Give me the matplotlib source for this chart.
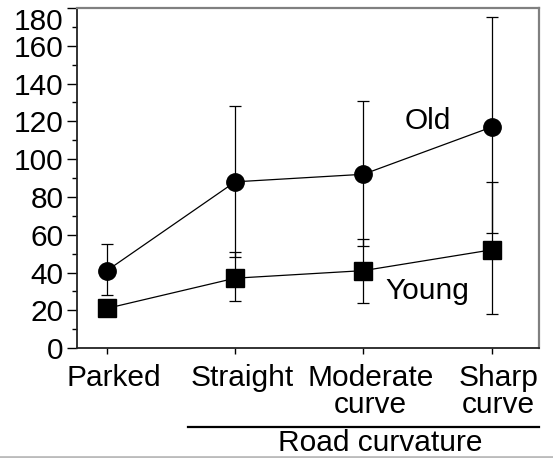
import matplotlib.pyplot as plt
from matplotlib.lines import Line2D
from matplotlib.transforms import ScaledTranslation

plt.rcParams["font.family"] = ["Liberation Sans", "DejaVu Sans"]

categories = ["Parked", "Straight", "Moderate\ncurve", "Sharp\ncurve"]
old_mean = [41, 88, 92, 117]
old_low = [28, 48, 54, 61]
old_high = [55, 128, 131, 175]
young_mean = [21, 37, 41, 52]
young_low = [21, 25, 24, 18]
young_high = [21, 51, 58, 88]
y_ticks = [0, 20, 40, 60, 80, 100, 120, 140, 160, 180]

FS = 21.5

fig = plt.figure(figsize=(5.53, 4.58), dpi=100)
ax = fig.add_axes([0.139, 0.240, 0.836, 0.7425])

x = list(range(len(categories)))

old_err = [[m - lo for m, lo in zip(old_mean, old_low)],
           [hi - m for m, hi in zip(old_mean, old_high)]]
young_err = [[m - lo for m, lo in zip(young_mean, young_low)],
             [hi - m for m, hi in zip(young_mean, young_high)]]

ax.errorbar(x, old_mean, yerr=old_err, fmt="none", ecolor="black",
            elinewidth=0.9, capsize=4, capthick=0.9, zorder=2)
ax.errorbar(x, young_mean, yerr=young_err, fmt="none", ecolor="black",
            elinewidth=0.9, capsize=4, capthick=0.9, zorder=2)
ax.plot(x, old_mean, color="black", lw=0.9, marker="o", markersize=12.5, zorder=3)
ax.plot(x, young_mean, color="black", lw=0.9, marker="s", markersize=12.5, zorder=3)

ax.text(2.5, 120, "Old", fontsize=FS, ha="center", va="center")
ax.text(2.5, 30, "Young", fontsize=FS, ha="center", va="center")

ax.set_xlim(-0.234, 3.37)
ax.set_ylim(0, 180)
ax.set_xticks(x)
ax.set_xticklabels(categories, fontsize=FS, linespacing=0.95)
ax.set_yticks(y_ticks)
ax.set_yticks(range(10, 180, 20), minor=True)
ax.tick_params(axis="y", which="major", length=7.2, width=1, labelsize=FS, pad=2.5)
ax.tick_params(axis="y", which="minor", length=3.6, width=1)
ax.tick_params(axis="x", length=4, width=1, pad=7.5)

shift = ScaledTranslation(7 / 100, 0, fig.dpi_scale_trans)
for lbl in ax.get_xticklabels():
    lbl.set_ha("center")
    lbl.set_transform(lbl.get_transform() + shift)
ylbls = ax.get_yticklabels()
ylbls[-1].set_transform(ylbls[-1].get_transform()
                        + ScaledTranslation(0, -11 / 100, fig.dpi_scale_trans))

for s in ["left", "bottom"]:
    ax.spines[s].set_color("#222222")
    ax.spines[s].set_linewidth(1.3)
for s in ["top", "right"]:
    ax.spines[s].set_color("#808080")
    ax.spines[s].set_linewidth(1.6)

# group bracket for road curvature
fig.add_artist(Line2D([188 / 553, 539 / 553], [1 - 427 / 458, 1 - 427 / 458],
                      color="black", lw=1.6))
fig.text(380 / 553, 1 - 443 / 458, "Road curvature", fontsize=FS,
         ha="center", va="center")
fig.add_artist(Line2D([0, 1], [0.002, 0.002], color="#bbbbbb", lw=2))

fig.savefig("out.png", dpi=100)
